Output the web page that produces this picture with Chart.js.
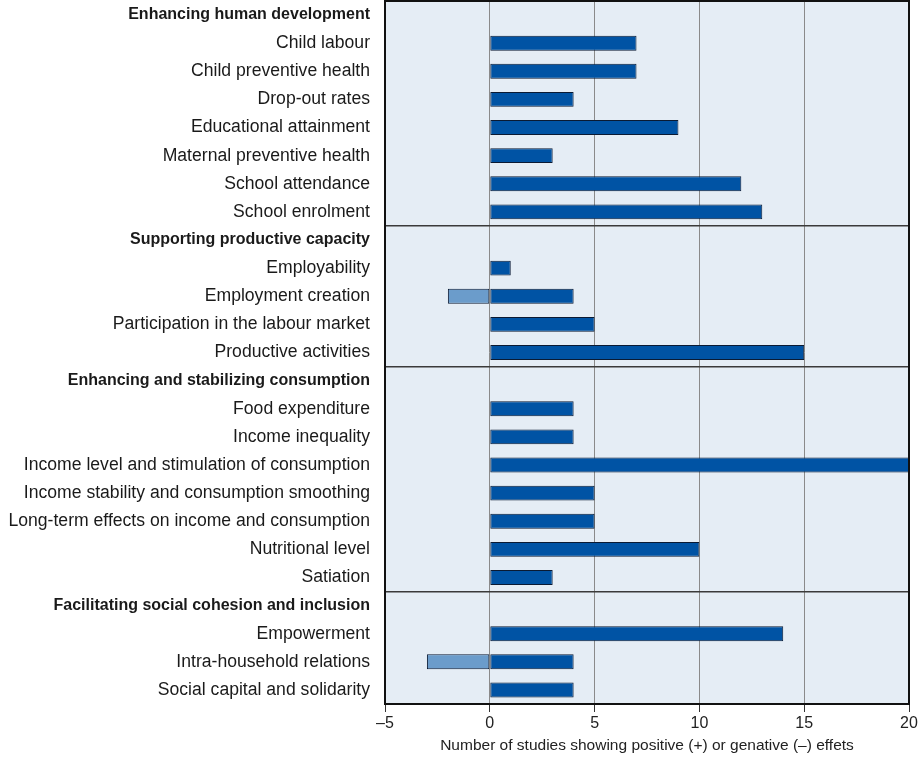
<!DOCTYPE html>
<html>
<head>
<meta charset="utf-8">
<script src="https://cdn.jsdelivr.net/npm/chart.js@4.4.1/dist/chart.umd.min.js"></script>
<style>
  html, body { margin: 0; padding: 0; background: #fff; }
  #wrap { width: 921px; height: 758px; }
</style>
</head>
<body>
<div id="wrap"><canvas id="chart" width="921" height="758"></canvas></div>
<script>
// Rows from top to bottom, group headers included
const labels = [
  "Enhancing human development",
  "Child labour",
  "Child preventive health",
  "Drop-out rates",
  "Educational attainment",
  "Maternal preventive health",
  "School attendance",
  "School enrolment",
  "Supporting productive capacity",
  "Employability",
  "Employment creation",
  "Participation in the labour market",
  "Productive activities",
  "Enhancing and stabilizing consumption",
  "Food expenditure",
  "Income inequality",
  "Income level and stimulation of consumption",
  "Income stability and consumption smoothing",
  "Long-term effects on income and consumption",
  "Nutritional level",
  "Satiation",
  "Facilitating social cohesion and inclusion",
  "Empowerment",
  "Intra-household relations",
  "Social capital and solidarity"
];
const headerRows = [0, 8, 13, 21];

// number of studies with positive effects
const positive = [null, 7, 7, 4, 9, 3, 12, 13, null, 1, 4, 5, 15, null, 4, 4, 20, 5, 5, 10, 3, null, 14, 4, 4];
// number of studies with negative effects
const negative = [null, null, null, null, null, null, null, null, null, null, -2, null, null, null, null, null, null, null, null, null, null, null, null, -3, null];

const xTicks = [-5, 0, 5, 10, 15, 20];
const xTitle = "Number of studies showing positive (+) or genative (\u2013) effets";

const plotFrame = {
  id: "plotFrame",
  beforeDraw(chart) {
    const { ctx, chartArea: a } = chart;
    ctx.save();
    ctx.fillStyle = "#e5edf5";
    ctx.fillRect(a.left, a.top, a.right - a.left, a.bottom - a.top);
    ctx.restore();
  },
  afterDraw(chart) {
    const { ctx, chartArea: a } = chart;
    ctx.save();
    ctx.strokeStyle = "#111";
    ctx.lineWidth = 2;
    ctx.strokeRect(a.left, a.top, a.right - a.left, a.bottom - a.top);
    ctx.restore();
  }
};

const font = "'Liberation Sans', Arial, sans-serif";

new Chart(document.getElementById("chart"), {
  type: "bar",
  data: {
    labels: labels,
    datasets: [
      {
        label: "Positive",
        data: positive,
        backgroundColor: "#0053a4",
        borderColor: "#0a1a33",
        borderWidth: 1,
        borderSkipped: false,
        barPercentage: 0.53,
        categoryPercentage: 1
      },
      {
        label: "Negative",
        data: negative,
        backgroundColor: "#6b9ccb",
        borderColor: "#0a1a33",
        borderWidth: 1,
        borderSkipped: false,
        barPercentage: 0.53,
        categoryPercentage: 1
      }
    ]
  },
  options: {
    indexAxis: "y",
    responsive: false,
    animation: false,
    devicePixelRatio: 1,
    layout: { padding: { top: 1, right: 12, bottom: 0, left: 0 } },
    plugins: {
      legend: { display: false },
      tooltip: { enabled: false }
    },
    scales: {
      x: {
        stacked: true,
        min: -5,
        max: 20,
        afterBuildTicks: (scale) => { scale.ticks = xTicks.map(v => ({ value: v })); },
        afterFit: (scale) => { scale.height = 54; },
        border: { display: false },
        grid: { color: "#8a8a8a", tickColor: "#333", tickLength: 8, lineWidth: 1 },
        ticks: {
          padding: 2,
          color: "#222",
          font: { family: font, size: 16 },
          callback: (v) => v < 0 ? "\u2013" + Math.abs(v) : String(v)
        },
        title: {
          display: true,
          text: xTitle,
          color: "#222",
          font: { family: font, size: 15.5 },
          padding: { top: 0, bottom: 3 }
        }
      },
      y: {
        stacked: true,
        afterFit: (scale) => {
          scale.width = 385;
          scale.paddingTop = 0;
          scale.paddingBottom = 0;
        },
        border: { display: false },
        grid: {
          offset: true,
          drawTicks: false,
          lineWidth: 1.5,
          color: (ctx) => headerRows.includes(ctx.index) && ctx.index > 0 ? "#3a3a3a" : "rgba(0,0,0,0)"
        },
        ticks: {
          padding: 15,
          color: "#1a1a1a",
          autoSkip: false,
          font: (ctx) => headerRows.includes(ctx.index)
            ? { family: font, size: 16, weight: "bold" }
            : { family: font, size: 17.6 }
        }
      }
    }
  },
  plugins: [plotFrame]
});
</script>
</body>
</html>
